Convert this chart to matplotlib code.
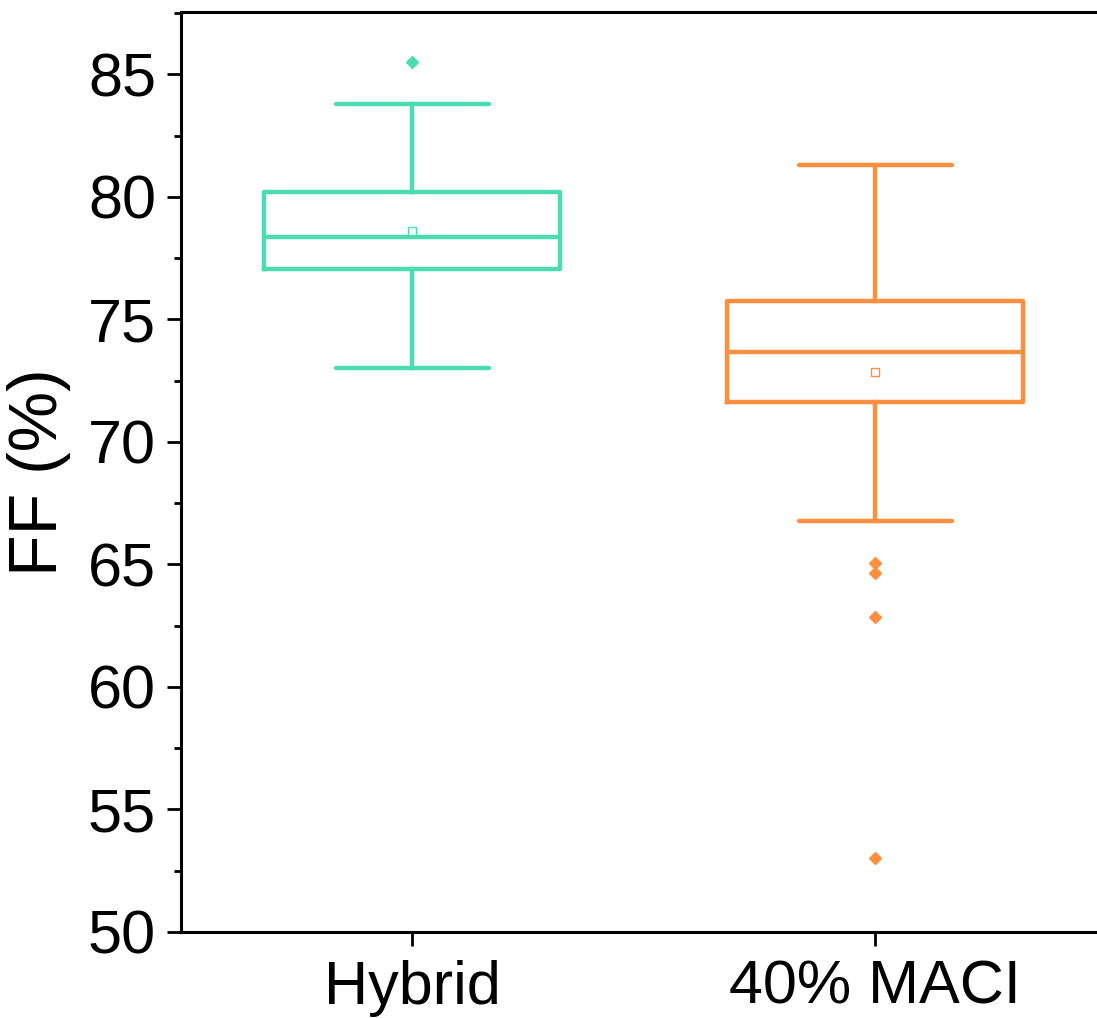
import matplotlib.pyplot as plt
from matplotlib.ticker import MultipleLocator

plt.rcParams['font.family'] = ['Liberation Sans', 'DejaVu Sans']

# box statistics
labels = ['Hybrid', '40% MACI']
q1 = [77.05, 71.62]
med = [78.35, 73.66]
q3 = [80.19, 75.74]
whislo = [73.01, 66.77]
whishi = [83.78, 81.29]
means = [78.60, 72.84]
fliers = [[85.49], [65.06, 64.67, 62.86, 53.02]]
colors = ['#4BDDB2', '#FF8E3E']

stats = []
for i in range(len(labels)):
    stats.append(dict(label=labels[i], q1=q1[i], med=med[i], q3=q3[i],
                      whislo=whislo[i], whishi=whishi[i], mean=means[i],
                      fliers=fliers[i]))

fig = plt.figure(figsize=(10.97, 10.18), dpi=100)
ax = fig.add_axes([0.165, 0.0845, 0.8437, 0.9037])

for i, s in enumerate(stats):
    c = colors[i]
    ax.bxp([s], positions=[i + 1], widths=0.64, capwidths=0.33,
           showmeans=True, showfliers=True,
           boxprops=dict(color=c, linewidth=3.2),
           medianprops=dict(color=c, linewidth=3.2),
           whiskerprops=dict(color=c, linewidth=3.2),
           capprops=dict(color=c, linewidth=3.2, solid_capstyle='round'),
           meanprops=dict(marker='s', markerfacecolor='white', markeredgecolor=c,
                          markersize=6, markeredgewidth=1),
           flierprops=dict(marker='D', markerfacecolor=c, markeredgecolor=c,
                           markersize=6.5))

ax.set_xlim(0.5, 2.5)
ax.set_ylim(50, 87.55)
ax.set_xticks([1, 2])
ax.set_xticklabels(labels)
ax.yaxis.set_major_locator(MultipleLocator(5))
ax.yaxis.set_minor_locator(MultipleLocator(2.5))
ax.set_ylabel('FF (%)', fontsize=49, labelpad=12)

ax.tick_params(axis='both', which='major', direction='out', length=10, width=2,
               labelsize=44, pad=8)
ax.tick_params(axis='y', which='minor', direction='out', length=5, width=2)
ax.tick_params(axis='x', which='major', pad=10)
for sp in ax.spines.values():
    sp.set_linewidth(2.2)
ax.spines['right'].set_visible(False)

fig.savefig('out.png', dpi=100)
